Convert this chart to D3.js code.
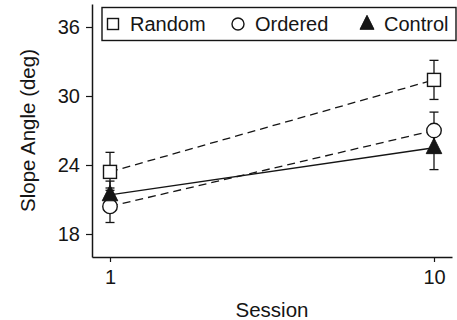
<!DOCTYPE html>
<html>
<head>
<meta charset="utf-8">
<script src="https://cdn.jsdelivr.net/npm/d3@7"></script>
<style>
  html, body { margin: 0; padding: 0; background: #fff; }
  svg { display: block; font-family: "Liberation Sans", Arial, sans-serif; }
</style>
</head>
<body>
<svg id="chart" width="457" height="320"></svg>
<script>
// ---- data ----
const sessions = [1, 10];
const seriesNames = ["Random", "Ordered", "Control"];
const randomMean = [23.4, 31.4];
const randomLow  = [22.0, 29.7];
const randomHigh = [25.1, 33.1];
const orderedMean = [20.4, 27.0];
const orderedLow  = [19.0, 25.4];
const orderedHigh = [21.8, 28.6];
const controlMean = [21.4, 25.5];
const controlLow  = [20.2, 23.6];
const controlHigh = [22.6, 27.4];
const yTicks = [18, 24, 30, 36];
const xTicks = [1, 10];

const series = [
  { name: seriesNames[0], mean: randomMean, low: randomLow, high: randomHigh, shape: "square", dash: "8,5" },
  { name: seriesNames[1], mean: orderedMean, low: orderedLow, high: orderedHigh, shape: "circle", dash: "8,5" },
  { name: seriesNames[2], mean: controlMean, low: controlLow, high: controlHigh, shape: "triangle", dash: null }
];

const svg = d3.select("#chart");
const mLeft = 92, mRight = 452, mTop = 4, mBottom = 257;
const x = d3.scaleLinear().domain([0.5, 10.5]).range([mLeft, mRight]);
const y = d3.scaleLinear().domain([16, 38]).range([mBottom, mTop]);
const ink = "#151515";

// axes
const yAxis = svg.append("g").attr("transform", `translate(${mLeft},0)`)
  .call(d3.axisLeft(y).tickValues(yTicks).tickSize(6).tickPadding(6).tickSizeOuter(0));
const xAxis = svg.append("g").attr("transform", `translate(0,${mBottom})`)
  .call(d3.axisBottom(x).tickValues(xTicks).tickSize(5).tickPadding(8).tickSizeOuter(0));
[yAxis, xAxis].forEach(g => {
  g.select(".domain").attr("stroke", ink).attr("stroke-width", 1.5);
  g.selectAll(".tick line").attr("stroke", ink).attr("stroke-width", 1.2);
  g.selectAll(".tick text").attr("fill", ink).attr("font-size", 20)
    .attr("font-family", "Liberation Sans, Arial, sans-serif");
});

// axis titles
svg.append("text").attr("x", (mLeft + mRight) / 2).attr("y", 317)
  .attr("text-anchor", "middle").attr("font-size", 20.5).attr("fill", ink).text("Session");
svg.append("text").attr("transform", `translate(35,${(mTop + mBottom) / 2}) rotate(-90)`)
  .attr("text-anchor", "middle").attr("font-size", 20.5).attr("fill", ink).text("Slope Angle (deg)");

// marker drawing
function drawMarker(g, shape, cx, cy, s) {
  if (shape === "square") {
    g.append("rect").attr("x", cx - s / 2).attr("y", cy - s / 2).attr("width", s).attr("height", s)
      .attr("fill", "#fff").attr("stroke", ink).attr("stroke-width", 1.4);
  } else if (shape === "circle") {
    g.append("circle").attr("cx", cx).attr("cy", cy).attr("r", s / 2)
      .attr("fill", "#fff").attr("stroke", ink).attr("stroke-width", 1.4);
  } else {
    const h = s;
    g.append("path")
      .attr("d", `M${cx},${cy - h * 0.62} L${cx + s / 2},${cy + h * 0.38} L${cx - s / 2},${cy + h * 0.38} Z`)
      .attr("fill", ink).attr("stroke", ink).attr("stroke-width", 1);
  }
}

const plot = svg.append("g");
const line = d3.line().x((d, i) => x(sessions[i])).y(d => y(d));

// lines first
series.forEach(s => {
  plot.append("path").datum(s.mean).attr("d", line)
    .attr("fill", "none").attr("stroke", ink).attr("stroke-width", 1.3)
    .attr("stroke-dasharray", s.dash);
});
// error bars
const cap = 4.5;
series.forEach(s => {
  sessions.forEach((sx, i) => {
    const cx = x(sx);
    plot.append("line").attr("x1", cx).attr("x2", cx).attr("y1", y(s.low[i])).attr("y2", y(s.high[i]))
      .attr("stroke", ink).attr("stroke-width", 1.3);
    [s.low[i], s.high[i]].forEach(v => {
      plot.append("line").attr("x1", cx - cap).attr("x2", cx + cap).attr("y1", y(v)).attr("y2", y(v))
        .attr("stroke", ink).attr("stroke-width", 1.3);
    });
  });
});
// markers
series.forEach(s => {
  sessions.forEach((sx, i) => {
    const size = s.shape === "circle" ? 14.5 : (s.shape === "square" ? 13 : 15.5);
    drawMarker(plot, s.shape, x(sx), y(s.mean[i]), size);
  });
});

// legend
const lg = svg.append("g");
lg.append("rect").attr("x", 102).attr("y", 7.5).attr("width", 354).attr("height", 33)
  .attr("fill", "#fff").attr("stroke", ink).attr("stroke-width", 1.4);
const legendX = [113, 238, 367];
series.forEach((s, i) => {
  drawMarker(lg, s.shape, legendX[i], 24, s.shape === "circle" ? 12 : (s.shape === "square" ? 11 : 14));
  lg.append("text").attr("x", legendX[i] + 17).attr("y", 31).attr("font-size", 20)
    .attr("fill", ink).text(s.name);
});
</script>
</body>
</html>
